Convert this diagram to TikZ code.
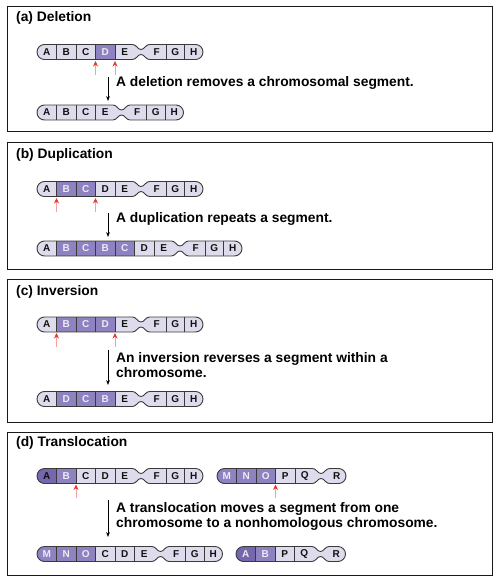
\documentclass[tikz,border=0pt]{standalone}
\usepackage{fontspec}
\setmainfont{Liberation Sans}
\usetikzlibrary{arrows.meta}
\definecolor{cL}{HTML}{DEDCEC}
\definecolor{cD}{HTML}{8E82C0}
\definecolor{cX}{HTML}{7666AE}
\definecolor{cY}{HTML}{7666AE}
\definecolor{tL}{HTML}{111111}
\definecolor{tD}{HTML}{EEEAF8}
\definecolor{tX}{HTML}{111111}
\definecolor{tY}{HTML}{EEEAF8}
\definecolor{outl}{HTML}{3A3A3A}
\definecolor{arrred}{HTML}{E8362E}
\definecolor{arrpink}{HTML}{F4A0A0}
\tikzset{
  frame/.style={draw=black!90, line width=1pt},
  title/.style={anchor=west, inner sep=0pt, font=\fontsize{13.8}{15}\selectfont\bfseries},
  desc/.style={anchor=west, inner sep=0pt, align=left, font=\fontsize{13.8}{15}\selectfont\bfseries},
  cell/.style={inner sep=0pt, font=\fontsize{10}{10}\selectfont\bfseries},
  outline/.style={draw=outl, line width=0.9pt},
  divider/.style={draw=outl, line width=0.7pt},
  redarrow/.style={draw=arrpink, line width=0.8pt, -{Stealth[length=5.5pt,width=5pt,color=arrred]}},
  downarrow/.style={draw=black, line width=0.8pt, -{Stealth[length=5pt,width=3.8pt]}}
}
% #1 name, #2 x0, #3 yc, #4 n left, #5 n right, #6 left list, #7 right list
\newcommand{\chromo}[7]{%
\begin{scope}
 \pgfmathsetmacro{\xa}{#2}
 \pgfmathsetmacro{\xb}{#2+#4*19.5}
 \pgfmathsetmacro{\xc}{\xb+13}
 \pgfmathsetmacro{\xd}{\xc+#5*18.5}
 \pgfmathsetmacro{\yc}{#3}
 \pgfmathsetmacro{\yt}{#3-7.5}
 \pgfmathsetmacro{\yb}{#3+7.5}
 \def\chrpath{(\xa+7.5,\yt) -- (\xb-2,\yt) .. controls (\xb+2,\yt) and (\xb+3,\yt+5) .. (\xb+6.5,\yt+5) .. controls (\xc-3,\yt+5) and (\xc-2,\yt) .. (\xc+2,\yt) -- (\xd-7.5,\yt) .. controls (\xd-3.36,\yt) and (\xd,\yc-4.14) .. (\xd,\yc) .. controls (\xd,\yc+4.14) and (\xd-3.36,\yb) .. (\xd-7.5,\yb) -- (\xc+2,\yb) .. controls (\xc-2,\yb) and (\xc-3,\yb-5) .. (\xb+6.5,\yb-5) .. controls (\xb+3,\yb-5) and (\xb+2,\yb) .. (\xb-2,\yb) -- (\xa+7.5,\yb) .. controls (\xa+3.36,\yb) and (\xa,\yc+4.14) .. (\xa,\yc) .. controls (\xa,\yc-4.14) and (\xa+3.36,\yt) .. (\xa+7.5,\yt) -- cycle}
 \begin{scope}
  \clip \chrpath;
  \fill[cL] (\xa,\yt) rectangle (\xd,\yb);
  \foreach \f/\l [count=\i] in {#6} {\fill[c\f] (\xa+\i*19.5-19.5,\yt) rectangle (\xa+\i*19.5,\yb);}
  \foreach \f/\l [count=\i] in {#7} {\fill[c\f] (\xc+\i*18.5-18.5,\yt) rectangle (\xc+\i*18.5,\yb);}
 \end{scope}
 \foreach \f/\l [count=\i] in {#6} {
   \ifnum\i>1 \draw[divider] (\xa+\i*19.5-19.5,\yt) -- (\xa+\i*19.5-19.5,\yb);\fi
   \node[cell, text=t\f] (#1-l\i) at (\xa+\i*19.5-9.75,\yc) {\l};}
 \foreach \f/\l [count=\i] in {#7} {
   \ifnum\i>1 \draw[divider] (\xc+\i*18.5-18.5,\yt) -- (\xc+\i*18.5-18.5,\yb);\fi
   \node[cell, text=t\f] (#1-r\i) at (\xc+\i*18.5-9.25,\yc) {\l};}
 \draw[outline] \chrpath;
\end{scope}}
\begin{document}
\begin{tikzpicture}[x=1pt,y=-1pt]
\useasboundingbox (0,0) rectangle (495,577);
\fill[white] (0,0) rectangle (495,577);
% frames
\draw[frame] (7,7) rectangle (492,132);
\draw[frame] (7,143) rectangle (492,269);
\draw[frame] (7,279) rectangle (492,422);
\draw[frame] (7,432) rectangle (492,575);
% (a) Deletion
\node[title] (ta) at (16,18) {(a) Deletion};
\chromo{a1}{37}{52}{5}{3}{L/A,L/B,L/C,D/D,L/E}{L/F,L/G,L/H}
\chromo{a2}{37}{112.5}{4}{3}{L/A,L/B,L/C,L/E}{L/F,L/G,L/H}
\coordinate (ar1s) at (95.5,75); \coordinate (ar1e) at (95.5,61);
\coordinate (ar2s) at (115,75); \coordinate (ar2e) at (115,61);
\draw[redarrow] (ar1s) -- (ar1e);
\draw[redarrow] (ar2s) -- (ar2e);
\coordinate (ad1) at (108,77); \coordinate (ad2) at (108,101);
\draw[downarrow] (ad1) -- (ad2);
\node[desc] (da) at (116,83) {A deletion removes a chromosomal segment.};
% (b) Duplication
\node[title] (tb) at (16,155) {(b) Duplication};
\chromo{b1}{37}{189}{5}{3}{L/A,D/B,D/C,L/D,L/E}{L/F,L/G,L/H}
\chromo{b2}{37}{248.5}{7}{3}{L/A,D/B,D/C,D/B,D/C,L/D,L/E}{L/F,L/G,L/H}
\coordinate (br1s) at (56.5,212); \coordinate (br1e) at (56.5,198);
\coordinate (br2s) at (95.5,212); \coordinate (br2e) at (95.5,198);
\draw[redarrow] (br1s) -- (br1e);
\draw[redarrow] (br2s) -- (br2e);
\coordinate (bd1) at (108,213); \coordinate (bd2) at (108,237);
\draw[downarrow] (bd1) -- (bd2);
\node[desc] (db) at (116,219) {A duplication repeats a segment.};
% (c) Inversion
\node[title] (tc) at (16,292) {(c) Inversion};
\chromo{c1}{37}{324.5}{5}{3}{L/A,D/B,D/C,D/D,L/E}{L/F,L/G,L/H}
\chromo{c2}{37}{399}{5}{3}{L/A,D/D,D/C,D/B,L/E}{L/F,L/G,L/H}
\coordinate (cr1s) at (56.5,347); \coordinate (cr1e) at (56.5,333);
\coordinate (cr2s) at (115,347); \coordinate (cr2e) at (115,333);
\draw[redarrow] (cr1s) -- (cr1e);
\draw[redarrow] (cr2s) -- (cr2e);
\coordinate (cd1) at (108,350); \coordinate (cd2) at (108,385);
\draw[downarrow] (cd1) -- (cd2);
\node[desc] (dc) at (116,365.5) {An inversion reverses a segment within a\\chromosome.};
% (d) Translocation
\node[title] (td) at (16,443) {(d) Translocation};
\chromo{d1}{37}{476}{5}{3}{X/A,D/B,L/C,L/D,L/E}{L/F,L/G,L/H}
\chromo{d2}{217}{476}{5}{1}{D/M,D/N,D/O,L/P,L/Q}{L/R}
\chromo{d3}{37}{554}{6}{3}{D/M,D/N,D/O,L/C,L/D,L/E}{L/F,L/G,L/H}
\chromo{d4}{236}{554}{4}{1}{Y/A,D/B,L/P,L/Q}{L/R}
\coordinate (dr1s) at (76,498); \coordinate (dr1e) at (76,484.5);
\coordinate (dr2s) at (275.5,498); \coordinate (dr2e) at (275.5,484.5);
\draw[redarrow] (dr1s) -- (dr1e);
\draw[redarrow] (dr2s) -- (dr2e);
\coordinate (dd1) at (108,500); \coordinate (dd2) at (108,537);
\draw[downarrow] (dd1) -- (dd2);
\node[desc] (dd) at (116,516.5) {A translocation moves a segment from one\\chromosome to a nonhomologous chromosome.};
\end{tikzpicture}
\end{document}
